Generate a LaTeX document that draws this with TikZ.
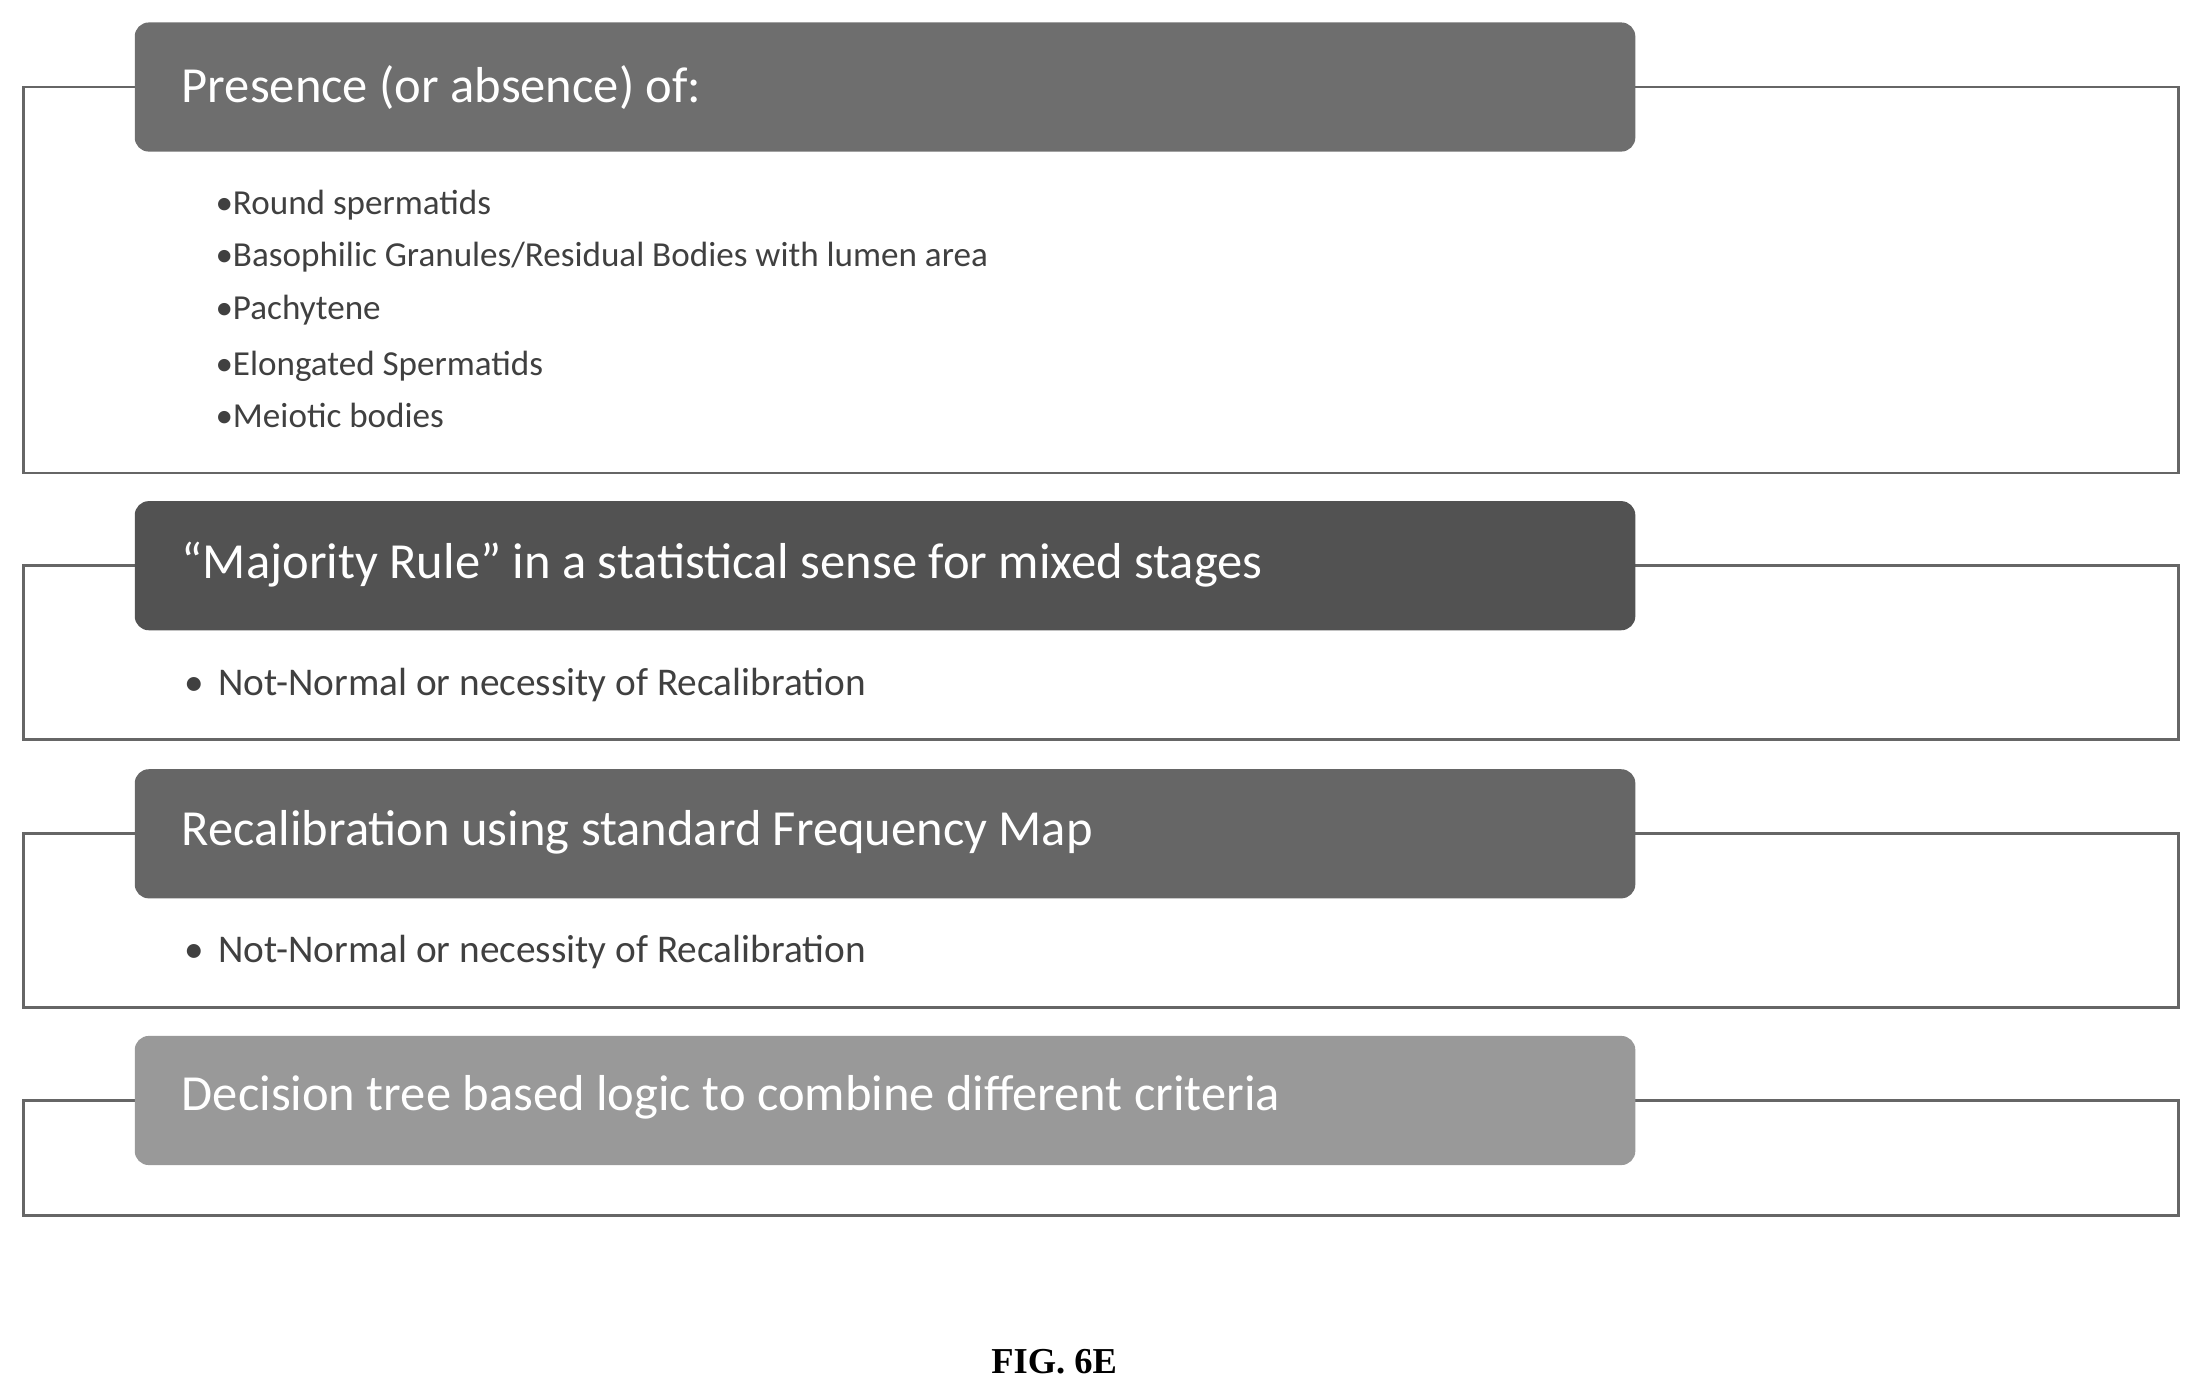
\documentclass[tikz,border=0pt]{standalone}
\usepackage{fontspec}
\setmainfont{Carlito}
\newfontfamily\figfont{Liberation Serif}
\begin{document}
\begin{tikzpicture}[x=1pt,y=-1pt,
  outer/.style={draw=black!60,line width=2pt},
  head/.style={rounded corners=10pt,draw=none},
  htxt/.style={anchor=west,text=white,font=\fontsize{36}{40}\selectfont},
  sub/.style={anchor=west,text=black!75,font=\fontsize{25}{28}\selectfont},
  sub2/.style={anchor=west,text=black!75,font=\fontsize{28}{32}\selectfont}]
\useasboundingbox (0,0) rectangle (1568,994.5);
% box 1
\draw[outer] (17,62) rectangle (1552,337);
\fill[head,fill=black!57] (96,16) rectangle (1165,108);
\node[htxt] (h1) at (126,62) {Presence (or absence) of:};
\node[sub] (a1) at (150,146) {•Round spermatids};
\node[sub] (a2) at (150,183) {•Basophilic Granules/Residual Bodies with lumen area};
\node[sub] (a3) at (150,221) {•Pachytene};
\node[sub] (a4) at (150,261) {•Elongated Spermatids};
\node[sub] (a5) at (150,296) {•Meiotic bodies};
% box 2
\draw[outer] (17,403) rectangle (1552,527);
\fill[head,fill=black!68] (96,357) rectangle (1165,449);
\node[htxt] (h2) at (126,402) {“Majority Rule” in a statistical sense for mixed stages};
\node[sub2] (b1) at (128,488) {•\hspace{10pt}Not-Normal or necessity of Recalibration};
% box 3
\draw[outer] (17,594) rectangle (1552,718);
\fill[head,fill=black!60] (96,548) rectangle (1165,640);
\node[htxt] (h3) at (126,593) {Recalibration using standard Frequency Map};
\node[sub2] (c1) at (128,678) {•\hspace{10pt}Not-Normal or necessity of Recalibration};
% box 4
\draw[outer] (17,784) rectangle (1552,866);
\fill[head,fill=black!40] (96,738) rectangle (1165,830);
\node[htxt] (h4) at (126,782) {Decision tree based logic to combine different criteria};
\node[font=\figfont\bfseries\fontsize{26}{30}\selectfont] (fig) at (751,970) {FIG. 6E};
\end{tikzpicture}
\end{document}
